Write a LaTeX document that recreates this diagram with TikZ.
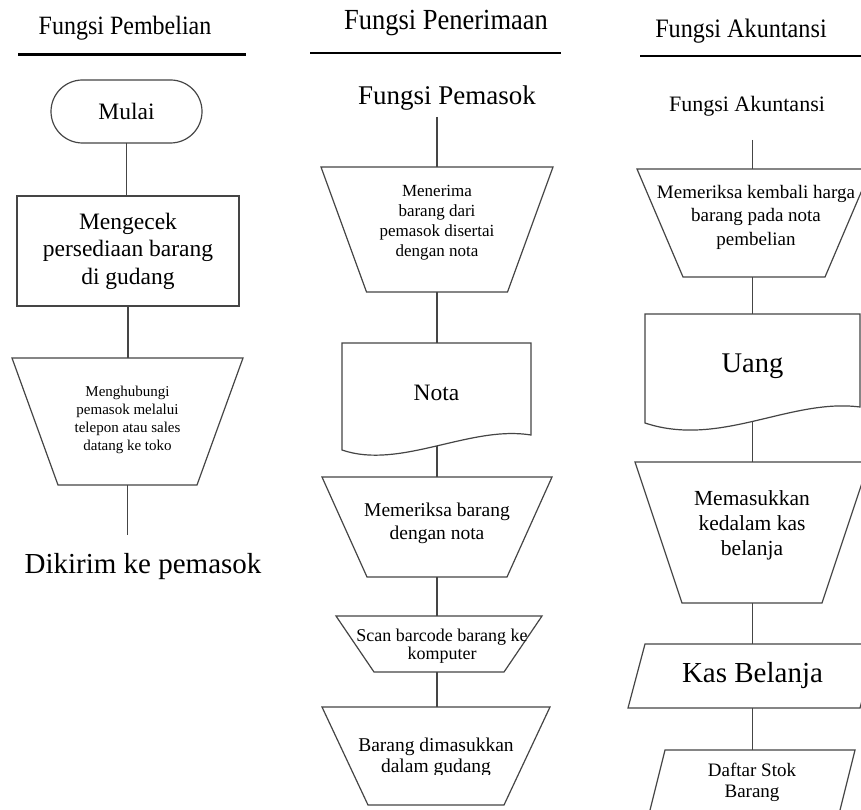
\documentclass[tikz,border=0pt]{standalone}
\usepackage{fontspec}
\setmainfont{Liberation Serif}
\usetikzlibrary{calc}
\definecolor{linegray}{HTML}{454545}
\newcommand\myfs[2]{\fontsize{#1}{#2}\selectfont}
\newcommand\drawtrap[2]{\draw[shp] (#1.north west) -- (#1.north east) -- ([xshift=-#2pt]#1.south east) -- ([xshift=#2pt]#1.south west) -- cycle;}
\newcommand\drawpara[2]{\draw[shp] ([xshift=#2pt]#1.north west) -- ([xshift=#2pt]#1.north east) -- ([xshift=-#2pt]#1.south east) -- ([xshift=-#2pt]#1.south west) -- cycle;}
\tikzset{
  conn/.style={draw=linegray, line width=1.3pt},
  shp/.style={draw=linegray, line width=1.2pt, line join=miter},
  sz/.style 2 args={minimum width=#1pt, minimum height=#2pt, inner sep=0pt, outer sep=0pt},
  txt/.style={inner sep=0pt, outer sep=0pt, align=center, text=black},
  hrule/.style={draw=black},
}
\begin{document}
\begin{tikzpicture}[x=1pt,y=-1pt]
\useasboundingbox (0,0) rectangle (861,810);
\fill[white] (0,0) rectangle (861,810);
\clip (0,0) rectangle (861,810);

% ---------- headers ----------
\node[txt, font=\myfs{24}{28}] (h1) at (125,28) {\scalebox{1}[1.1]{Fungsi Pembelian}};
\draw[hrule, line width=3pt] (18,55) -- (246,55);
\node[txt, font=\myfs{26.5}{30}] (h2) at (446,23) {\scalebox{1}[1.1]{Fungsi Penerimaan}};
\draw[hrule, line width=2.5pt] (310,53) -- (561,53);
\node[txt, font=\myfs{24.2}{28}] (h3) at (741,31) {\scalebox{1}[1.1]{Fungsi Akuntansi}};
\draw[hrule, line width=2.5pt] (640,56) -- (861,56);

% ---------- column 1 ----------
\node[sz={151}{63}, shp, rounded corners=31.5pt, txt, font=\myfs{23.5}{27}] (mulai) at (126.5,111.5) {Mulai};
\node[sz={222}{110}, shp, txt, font=\myfs{23.5}{27.5}] (cek) at (128,251) {Mengecek\\persediaan barang\\di gudang};
\node[sz={231}{127}] (hub) at (127.5,421.5) {};
\drawtrap{hub}{46}
\node[txt, font=\myfs{15}{18}] (hubt) at (127.5,420) {Menghubungi\\pemasok melalui\\telepon atau sales\\datang ke toko};
\coordinate (hubend) at (127.5,535);
\node[txt, font=\myfs{29}{33}] (dikirim) at (143,567) {Dikirim ke pemasok};

\draw[conn] (mulai.south) -- (mulai.south |- cek.north);
\draw[conn] (cek.south) -- (cek.south |- hub.north);
\draw[conn] (hub.south) -- (hubend);

% ---------- column 2 ----------
\node[txt, font=\myfs{27}{31}] (pemasok) at (447,98) {Fungsi Pemasok};
\coordinate (pemend) at (437,117);
\node[sz={232}{125}] (t1) at (437,229.5) {};
\drawtrap{t1}{45.5}
\node[txt, font=\myfs{17}{20}] (t1t) at (437,223) {Menerima\\barang dari\\pemasok disertai\\dengan nota};

\node[sz={189}{92}] (nota) at (436.5,389) {};
\draw[shp] ($(nota.south west)+(0,15)$) -- (nota.north west) -- (nota.north east) -- (nota.south east)
  .. controls ($(nota.south west)+(128,-10)$) and ($(nota.south west)+(58,35)$) .. ($(nota.south west)+(0,15)$)
  coordinate[pos=0.5] (notaw) -- cycle;
\node[txt, font=\myfs{23.5}{27}] (notat) at (436.5,393) {Nota};

\node[sz={230}{100}] (t2) at (437,527) {};
\drawtrap{t2}{45}
\node[txt, font=\myfs{19.5}{23}] (t2t) at (437,523.5) {Memeriksa barang\\dengan nota};

\node[sz={206}{56}] (t3) at (439,644) {};
\drawtrap{t3}{38}
\node[txt, font=\myfs{18}{18.5}] (t3t) at (442,646) {Scan barcode barang ke\\komputer};

\node[sz={228}{98}] (t4) at (436,756) {};
\drawtrap{t4}{46}
\begin{scope}
  \clip (300,700) rectangle (580,774);
  \node[txt, font=\myfs{19.5}{21}] (t4t) at (436,757.5) {Barang dimasukkan\\dalam gudang};
\end{scope}

\draw[conn] (pemend) -- (pemend |- t1.north);
\draw[conn] (t1.south) -- (t1.south |- nota.north);
\draw[conn] (t2.north |- notaw) -- (t2.north);
\draw[conn] (t2.south) -- (t2.south |- t3.north);
\draw[conn] (t2.south |- t3.south) -- (t2.south |- t4.north);

% ---------- column 3 ----------
\node[txt, font=\myfs{22}{26}] (akun) at (747,106) {Fungsi Akuntansi};
\coordinate (akunend) at (752.5,140);
\node[sz={234}{108}] (a1) at (754,223) {};
\drawtrap{a1}{46}
\node[txt, font=\myfs{19}{23.5}] (a1t) at (756,217) {Memeriksa kembali harga\\barang pada nota\\pembelian};

\node[sz={215}{93}] (uang) at (752.5,360.5) {};
\draw[shp] ($(uang.south west)+(0,16)$) -- (uang.north west) -- (uang.north east) -- (uang.south east)
  .. controls ($(uang.south west)+(145,-9)$) and ($(uang.south west)+(75,41)$) .. ($(uang.south west)+(0,16)$)
  coordinate[pos=0.5] (uangw) -- cycle;
\node[txt, font=\myfs{28.5}{32}] (uangt) at (752.5,366) {Uang};

\node[sz={234}{141}] (a2) at (752,532.5) {};
\drawtrap{a2}{47}
\node[txt, font=\myfs{21.5}{25}] (a2t) at (752,525) {Memasukkan\\kedalam kas\\belanja};

\node[sz={232}{64}, txt, font=\myfs{29}{33}] (kas) at (752.5,676) {Kas Belanja};
\drawpara{kas}{8.5}

\node[sz={190}{80}] (stok) at (750,790) {};
\drawpara{stok}{10}
\node[txt, font=\myfs{19}{21}] (stokt) at (752,782.5) {Daftar Stok\\Barang};

\draw[conn] (akunend) -- (akunend |- a1.north);
\draw[conn] (akunend |- a1.south) -- (akunend |- uang.north);
\draw[conn] (akunend |- uangw) -- (akunend |- a2.north);
\draw[conn] (akunend |- a2.south) -- (akunend |- kas.north);
\draw[conn] (akunend |- kas.south) -- (akunend |- stok.north);
\end{tikzpicture}
\end{document}
